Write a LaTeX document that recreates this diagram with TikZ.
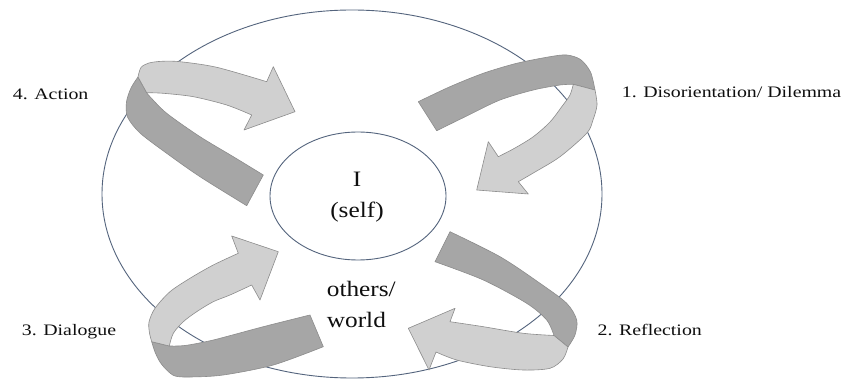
\documentclass[tikz,border=0pt]{standalone}
\usepackage{fontspec}
\setmainfont{Liberation Serif}
\newfontfamily\labfont[FakeStretch=1.24]{Liberation Serif}
\newfontfamily\midfont[FakeStretch=1.15]{Liberation Serif}
\usetikzlibrary{shapes.geometric}
\definecolor{ringcol}{RGB}{84,100,125}
\definecolor{darkfill}{RGB}{166,166,166}
\definecolor{lightfill}{RGB}{208,208,208}
\definecolor{bandedge}{RGB}{140,140,140}
\definecolor{txtcol}{RGB}{15,15,15}
\tikzset{
  ring/.style={ellipse, draw=ringcol, line width=0.9pt, inner sep=0pt},
  darkband/.style={fill=darkfill, draw=bandedge, line width=0.6pt, line join=round},
  lightband/.style={fill=lightfill, draw=bandedge, line width=0.6pt, line join=round},
  steplabel/.style={anchor=base west, inner sep=0pt, text=txtcol, font=\labfont\fontsize{16}{19}\selectfont},
  midtext/.style={inner sep=0pt, text=txtcol, font=\midfont\fontsize{22}{26}\selectfont}
}
\begin{document}
\begin{tikzpicture}[x=1pt,y=-1pt]
\useasboundingbox (0,0) rectangle (846,379);
\fill[white] (0,0) rectangle (846,379);

% ellipses
\node[ring, minimum width=500pt, minimum height=368pt] (outer) at (352,194) {};
\node[ring, minimum width=176pt, minimum height=128pt] (inner) at (358,196) {};

% ---- Arrow A : top-left (4. Action)
\path[darkband] plot[smooth] coordinates {(138,77) (131,88) (126.5,102) (127.5,117) (140,133) (166.7,153.3) (200,176.7) (246.7,205.7)}
  -- (263.3,175)
  -- plot[smooth] coordinates {(263.3,175) (233.3,156.7) (200,136.7) (166.7,113.3) (150,96.7) (146.7,92.7)}
  -- cycle;
\path[lightband] plot[smooth] coordinates {(138,77) (141,67.5) (149,63) (162,61.3) (180,61.7) (216.7,67.3) (266.7,81.7)}
  -- (273.3,66.7) -- (295,111.7) -- (244,130) -- (251.7,115)
  -- plot[smooth] coordinates {(251.7,115) (226.7,105) (193.3,96.7) (163.3,93.3) (146.7,92.7)}
  -- cycle;

% ---- Arrow B : top-right (1. Disorientation)
\path[darkband] plot[smooth] coordinates {(418.3,101.7) (450,86.7) (483.3,73.3) (516.7,63.3) (550,56.7) (566.7,55) (580.5,59.5) (590.5,72) (595,90)}
  -- (573.3,84.3)
  -- plot[smooth] coordinates {(573.3,84.3) (560,85) (533.3,90) (500,100) (466.7,116) (436.7,130.7)}
  -- cycle;
\path[lightband] plot[smooth] coordinates {(595,90) (597,105) (593,120) (586.7,133.3) (560,156.7) (535,172) (518.3,181.7)}
  -- (528.3,194) -- (476.7,190) -- (488.3,141.7) -- (498.3,156.7)
  -- plot[smooth] coordinates {(498.3,156.7) (515,148) (533.3,136.7) (550,122) (563,105) (570,95) (573.3,84.3)}
  -- cycle;

% ---- Arrow C : bottom-left (3. Dialogue)
\path[darkband] plot[smooth] coordinates {(151.7,341.7) (155,352) (160,362) (166.7,370) (175,376) (190,377) (223.3,375) (273.3,365) (323.3,346.7)}
  -- (310,315)
  -- plot[smooth] coordinates {(310,315) (263.3,326.7) (213.3,340) (185,345.5) (169.3,346)}
  -- cycle;
\path[lightband] plot[smooth] coordinates {(151.7,341.7) (149.5,333) (149,322) (155,308.3) (170,291.7) (190,278.3) (213.3,265) (238.3,253.3)}
  -- (231.7,236) -- (278.3,251.7) -- (260,300) -- (251.7,285)
  -- plot[smooth] coordinates {(251.7,285) (230,295) (213.3,301.7) (196.7,311.7) (183.3,321.7) (173.3,333.3) (169.3,346)}
  -- cycle;

% ---- Arrow D : bottom-right (2. Reflection)
\path[darkband] plot[smooth] coordinates {(450,231.7) (500,256.7) (540,283.3) (566.7,303.3) (576.7,320) (575,335) (568,347)}
  -- (554,335.5)
  -- plot[smooth] coordinates {(554,335.5) (546.7,320) (526.7,303.3) (483.3,280) (435,261.7)}
  -- cycle;
\path[lightband] plot[smooth] coordinates {(568,347) (563,359) (550,368.3) (523.3,370) (490,366.7) (456.7,360) (436,352)}
  -- (429,370) -- (408.3,328.3) -- (455,308.3) -- (450,321.7)
  -- plot[smooth] coordinates {(450,321.7) (483.3,326.7) (523.3,333.3) (554,335.5)}
  -- cycle;

% ---- texts
\node[midtext] (selfI) at (357,179.5) {I};
\node[midtext] (selfword) at (357,212) {(self)};
\node[midtext, anchor=base west] (others) at (326.7,296.7) {others/};
\node[midtext, anchor=base west] (world) at (326.7,327.7) {world};

\node[steplabel] (lab4) at (12.7,99.3) {4. Action};
\node[steplabel] (lab1) at (621.7,97.3) {1. Disorientation/ Dilemma};
\node[steplabel] (lab3) at (21.7,335.7) {3. Dialogue};
\node[steplabel] (lab2) at (597.5,335.7) {2. Reflection};
\end{tikzpicture}
\end{document}
